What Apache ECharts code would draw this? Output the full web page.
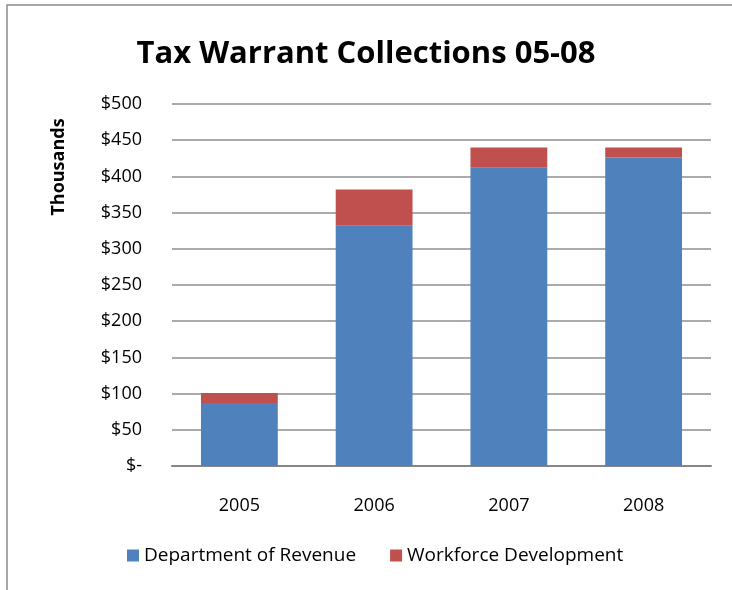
<!DOCTYPE html>
<html>
<head>
<meta charset="utf-8">
<script src="https://cdn.jsdelivr.net/npm/echarts@6/dist/echarts.min.js"></script>
<style>
  html, body { margin: 0; padding: 0; background: #fff; }
  #chart { width: 732px; height: 590px; }
</style>
</head>
<body>
<div id="chart"></div>
<script>
// values in thousands of dollars
var years = ['2005', '2006', '2007', '2008'];
var revenue = [87, 332, 412, 426];
var workforce = [14, 50, 28, 14];

var font = '"Open Sans", "Noto Sans", sans-serif';

var chart = echarts.init(document.getElementById('chart'));
chart.setOption({
  animation: false,
  textStyle: { fontFamily: font },
  title: {
    text: 'Tax Warrant Collections 05-08',
    left: 'center',
    top: 34,
    textStyle: { fontSize: 31, fontWeight: 'bold', color: '#000', fontFamily: font }
  },
  graphic: [
    {
      type: 'rect',
      shape: { x: 7, y: 5, width: 760, height: 620 },
      style: { fill: 'none', stroke: '#8c8c8c', lineWidth: 1.5 },
      silent: true
    },
    {
      type: 'text',
      x: 59,
      y: 167,
      rotation: Math.PI / 2,
      style: {
        text: 'Thousands',
        fontFamily: font,
        fontSize: 18,
        fontWeight: 'bold',
        fill: '#000',
        align: 'center',
        verticalAlign: 'middle'
      }
    }
  ],
  legend: {
    bottom: 20,
    left: 122,
    itemWidth: 12,
    itemHeight: 12,
    itemGap: 34,
    icon: 'rect',
    textStyle: { fontSize: 19, color: '#000', fontFamily: font },
    data: ['Department of Revenue', 'Workforce Development']
  },
  grid: { left: 172, right: 21, top: 104, bottom: 124 },
  xAxis: {
    type: 'category',
    data: years,
    axisLine: { lineStyle: { color: '#868686', width: 2 } },
    axisTick: { show: false },
    axisLabel: { fontSize: 18, color: '#000', margin: 31, fontFamily: font }
  },
  yAxis: {
    type: 'value',
    min: 0,
    max: 500,
    interval: 50,
    axisLine: { show: false },
    axisTick: { show: false },
    splitLine: { lineStyle: { color: '#8e8e8e', width: 1.5 } },
    axisLabel: {
      fontSize: 18,
      color: '#000',
      margin: 30,
      fontFamily: font,
      formatter: function (v) { return v === 0 ? '$-' : '$' + v; }
    }
  },
  series: [
    {
      name: 'Department of Revenue',
      type: 'bar',
      stack: 'total',
      barCategoryGap: '43%',
      data: revenue,
      itemStyle: { color: '#4F81BD' }
    },
    {
      name: 'Workforce Development',
      type: 'bar',
      stack: 'total',
      data: workforce,
      itemStyle: { color: '#C0504D' }
    }
  ]
});
</script>
</body>
</html>
